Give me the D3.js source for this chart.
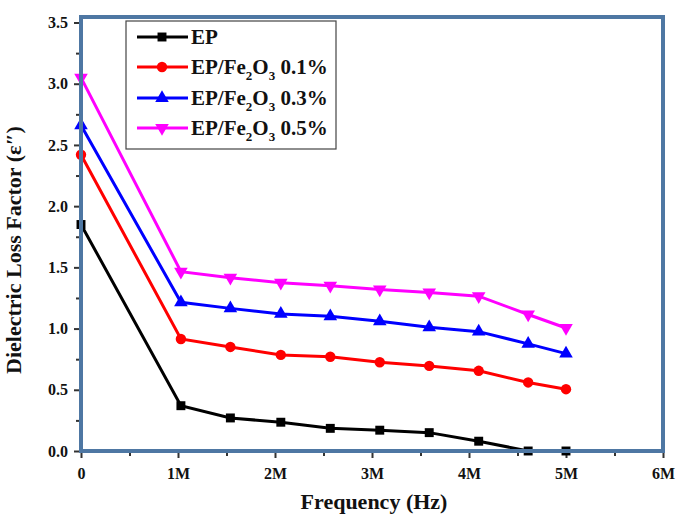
<!DOCTYPE html>
<html>
<head>
<meta charset="utf-8">
<script src="https://cdn.jsdelivr.net/npm/d3@7"></script>
<style>
  body { margin: 0; background: #fff; }
</style>
</head>
<body>
<div id="chart-area"></div>
<script>
// data (frequency in Hz)
var freqs = [0, 1.03e6, 1.54e6, 2.06e6, 2.57e6, 3.08e6, 3.59e6, 4.1e6, 4.61e6, 5.0e6]
var ep    = [1.85, 0.37, 0.27, 0.235, 0.185, 0.17, 0.15, 0.08, 0.0, 0.0]
var ep01  = [2.42, 0.915, 0.85, 0.785, 0.77, 0.725, 0.695, 0.655, 0.56, 0.505]
var ep03  = [2.66, 1.215, 1.165, 1.12, 1.1, 1.06, 1.01, 0.975, 0.875, 0.795]
var ep05  = [3.05, 1.465, 1.415, 1.375, 1.35, 1.32, 1.295, 1.265, 1.115, 1.005]
var seriesNames = ["EP", "0.1%", "0.3%", "0.5%"]
var colours = ["#000000", "#ff0000", "#0000ff", "#ff00ff"]
var symbols = ["square", "circle", "up", "down"]
var yTicks = [0, 0.5, 1, 1.5, 2, 2.5, 3, 3.5]
var xTicks = [0, 1e6, 2e6, 3e6, 4e6, 5e6, 6e6]
var xTickLabels = ["0", "1M", "2M", "3M", "4M", "5M", "6M"]

var margin = {"left": 81, "right": 17, "top": 17, "bottom": 66}
const WIDTH = 680, HEIGHT = 517
const GRAPH_WIDTH = WIDTH - margin.left - margin.right
const GRAPH_HEIGHT = HEIGHT - margin.top - margin.bottom
const FRAME = "#4e77a3"
const FONT = "Liberation Serif"

var svg = d3.select("#chart-area").append("svg")
    .attr("width", WIDTH)
    .attr("height", HEIGHT)
    .attr("font-family", FONT)
    .attr("font-weight", "bold")

var g = svg.append("g")
    .attr("transform", "translate(" + margin.left + "," + margin.top + ")")

var xScale = d3.scaleLinear().domain([0, 6e6]).range([0, GRAPH_WIDTH])
var yScale = d3.scaleLinear().domain([0, 3.545]).range([GRAPH_HEIGHT, 0])

// minor ticks first, then major ticks with labels
var xMinor = d3.axisBottom(xScale).tickValues(d3.range(0.5e6, 6e6, 1e6)).tickSize(5).tickFormat("")
var yMinor = d3.axisLeft(yScale).tickValues(d3.range(0.25, 3.5, 0.5)).tickSize(5).tickFormat("")
var xAxisCall = d3.axisBottom(xScale).tickValues(xTicks).tickSize(7).tickPadding(10)
    .tickFormat(function(d, i){ return xTickLabels[i] })
var yAxisCall = d3.axisLeft(yScale).tickValues(yTicks).tickSize(7).tickPadding(6)
    .tickFormat(d3.format(".1f"))

function styleAxis(sel){
    sel.attr("font-family", FONT).attr("font-weight", "bold")
    sel.select(".domain").remove()
    sel.selectAll("line").attr("stroke", "#333").attr("stroke-width", 2)
    sel.selectAll("text").attr("font-size", "16px").attr("fill", "#111")
        .attr("font-family", FONT).attr("font-weight", "bold")
}

g.append("g").attr("transform", "translate(0," + GRAPH_HEIGHT + ")").call(xMinor).call(styleAxis)
g.append("g").call(yMinor).call(styleAxis)
g.append("g").attr("transform", "translate(0," + GRAPH_HEIGHT + ")").call(xAxisCall).call(styleAxis)
g.append("g").call(yAxisCall).call(styleAxis)

var line = d3.line()
    .x(function(d){ return xScale(d[0]) })
    .y(function(d){ return yScale(d[1]) })

function symbolPath(kind){
    if (kind === "square") return d3.symbol().type(d3.symbolSquare).size(80)()
    if (kind === "circle") return d3.symbol().type(d3.symbolCircle).size(85)()
    return d3.symbol().type(d3.symbolTriangle).size(80)()
}

var allSeries = [ep, ep01, ep03, ep05]
allSeries.forEach(function(vals, i){
    var pts = freqs.map(function(f, j){ return [f, vals[j]] })
    g.append("path")
        .datum(pts)
        .attr("fill", "none")
        .attr("stroke", colours[i])
        .attr("stroke-width", 3)
        .attr("d", line)
    g.selectAll(".pt" + i).data(pts).enter()
        .append("path")
        .attr("class", "pt" + i)
        .attr("d", symbolPath(symbols[i]))
        .attr("fill", colours[i])
        .attr("transform", function(d){
            var rot = symbols[i] === "down" ? " rotate(180)" : ""
            return "translate(" + xScale(d[0]) + "," + yScale(d[1]) + ")" + rot
        })
})

// frame drawn over the data
g.append("rect")
    .attr("x", 0).attr("y", 0)
    .attr("width", GRAPH_WIDTH).attr("height", GRAPH_HEIGHT)
    .attr("fill", "none")
    .attr("stroke", FRAME)
    .attr("stroke-width", 4)

// legend
var legend = g.append("g").attr("transform", "translate(45,4)")
legend.append("rect")
    .attr("x", 0).attr("y", 0)
    .attr("width", 210).attr("height", 128)
    .attr("fill", "#fff")
    .attr("stroke", "#444")
    .attr("stroke-width", 1.2)

var rowY = [16, 46, 77, 107]
seriesNames.forEach(function(name, i){
    var row = legend.append("g").attr("transform", "translate(0," + rowY[i] + ")")
    row.append("line")
        .attr("x1", 11).attr("x2", 62)
        .attr("stroke", colours[i]).attr("stroke-width", 3)
    row.append("path")
        .attr("d", symbolPath(symbols[i]))
        .attr("fill", colours[i])
        .attr("transform", "translate(36,0)" + (symbols[i] === "down" ? " rotate(180)" : ""))
    var t = row.append("text")
        .attr("x", 65).attr("y", 7)
        .attr("font-size", "21px")
        .attr("fill", "#111")
    if (i === 0) {
        t.text("EP")
    } else {
        t.append("tspan").text("EP/Fe")
        t.append("tspan").attr("font-size", "13px").attr("dy", 6).text("2")
        t.append("tspan").attr("dy", -6).text("O")
        t.append("tspan").attr("font-size", "13px").attr("dy", 6).text("3")
        t.append("tspan").attr("dy", -6).text(" " + name)
    }
})

// axis titles
g.append("text")
    .attr("x", GRAPH_WIDTH / 2 + 2)
    .attr("y", GRAPH_HEIGHT + 58)
    .attr("font-size", "22px")
    .attr("fill", "#111")
    .attr("text-anchor", "middle")
    .text("Frequency (Hz)")

g.append("text")
    .attr("transform", "rotate(-90)")
    .attr("x", -233)
    .attr("y", -60)
    .attr("font-size", "22px")
    .attr("fill", "#111")
    .attr("text-anchor", "middle")
    .text("Dielectric Loss Factor (ε″)")
</script>
</body>
</html>
